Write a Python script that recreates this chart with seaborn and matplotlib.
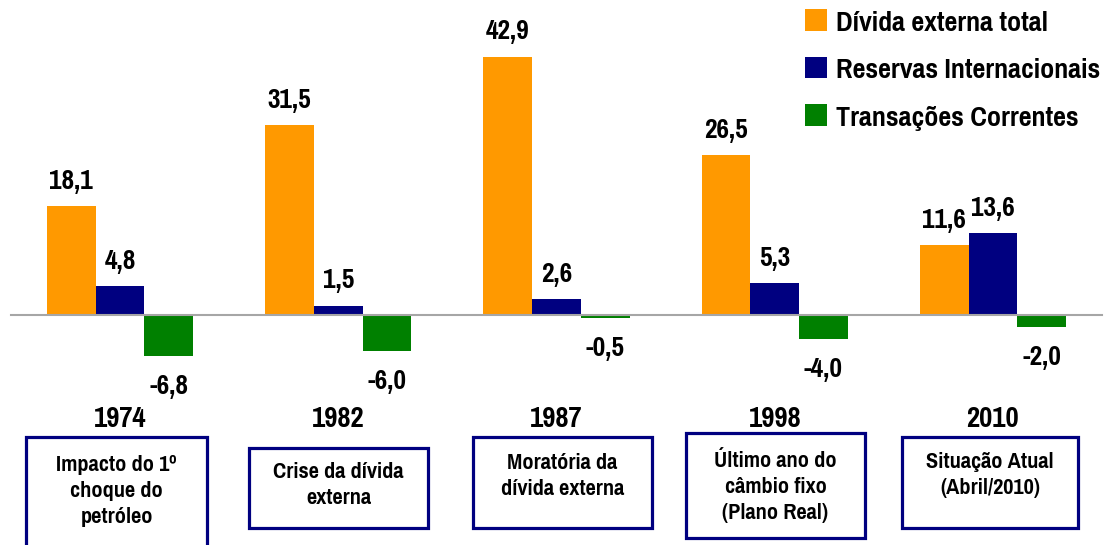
import pandas as pd
import matplotlib.pyplot as plt
from matplotlib.patches import Rectangle
from matplotlib import font_manager
import seaborn as sns

# DATA
years = ['1974', '1982', '1987', '1998', '2010']
divida = [18.1, 31.5, 42.9, 26.5, 11.6]
reservas = [4.8, 1.5, 2.6, 5.3, 13.6]
transacoes = [-6.8, -6.0, -0.5, -4.0, -2.0]
series = ['Dívida externa total', 'Reservas Internacionais', 'Transações Correntes']
descricoes = ['Impacto do 1º\nchoque do\npetróleo',
              'Crise da dívida\nexterna',
              'Moratória da\ndívida externa',
              'Último ano do\ncâmbio fixo\n(Plano Real)',
              'Situação Atual\n(Abril/2010)']

cores = ['#FF9900', '#000080', '#008000']

df = pd.DataFrame({
    'ano': years * 3,
    'serie': [series[0]] * 5 + [series[1]] * 5 + [series[2]] * 5,
    'valor': divida + reservas + transacoes,
})

# fonte estreita tipo Arial Narrow (a primeira que existir)
instaladas = {f.name for f in font_manager.fontManager.ttflist}
candidatas = ['Arial Narrow', 'Liberation Sans Narrow', 'Pragati Narrow', 'Archivo Narrow',
              'Roboto Condensed', 'PT Sans Narrow', 'IBM Plex Sans Condensed']
narrow = [c for c in candidatas if c in instaladas][:1]

sns.set_style('white')
plt.rcParams['font.family'] = narrow + ['DejaVu Sans']
plt.rcParams['font.weight'] = 'bold'
plt.rcParams['text.color'] = 'black'
plt.rcParams['xtick.color'] = 'black'

W, H = 1104, 545
fig = plt.figure(figsize=(W / 100, H / 100), dpi=100)

# eixo posicionado para a linha do zero ficar em y=315px
ylo, yhi = -13, 52
ppu = 6.02
top_px = 315 - yhi * ppu
bot_px = 315 - ylo * ppu
ax = fig.add_axes([11 / W, 1 - bot_px / H, 1091 / W, (bot_px - top_px) / H])

sns.barplot(data=df, x='ano', y='valor', hue='serie', palette=cores,
            width=0.67, saturation=1, linewidth=0, ax=ax)

ax.set_xlim(-0.5, 4.5)
ax.set_ylim(ylo, yhi)
ax.set_xlabel('')
ax.set_ylabel('')
ax.set_yticks([])
for s in ['top', 'right', 'left']:
    ax.spines[s].set_visible(False)
ax.spines['bottom'].set_position(('data', 0))
ax.spines['bottom'].set_color('#A6A6A6')
ax.spines['bottom'].set_linewidth(1.5)

ax.set_xticks(range(len(years)))
ax.set_xticklabels(years, fontsize=22.5, fontweight='bold')
ax.set_xticks([i - 0.5 for i in range(len(years) + 1)], minor=True)
ax.tick_params(axis='x', which='major', length=0, pad=65)
ax.tick_params(axis='x', which='minor', length=7, width=1.5, color='#A6A6A6', direction='out')

for cont in ax.containers:
    labs = [f'{v:.1f}'.replace('.', ',') for v in cont.datavalues]
    pads = 9 if cont.datavalues[0] > 0 else 13
    ax.bar_label(cont, labels=labs, padding=pads, fontsize=21.5, fontweight='bold')

handles, labels = ax.get_legend_handles_labels()
ax.legend(handles, labels, loc='upper left', bbox_to_anchor=(805 / W, 1 - 9 / H),
          bbox_transform=fig.transFigure, frameon=False, borderpad=0, borderaxespad=0,
          handlelength=0.72, handleheight=0.72, handletextpad=0.28, labelspacing=0.69,
          prop={'size': 22, 'weight': 'bold'})

# caixas de descricao (left, top, right, bottom em px) e centro do texto
caixas = [(26, 437, 207, 560), (249, 448, 428, 528), (473, 437, 652, 528),
          (686, 433, 865, 538), (902, 437, 1078, 528)]
centros = [491, 485, 476, 487, 475]
for (l, t, r, b), cy, txt in zip(caixas, centros, descricoes):
    fig.add_artist(Rectangle((l / W, 1 - b / H), (r - l) / W, (b - t) / H,
                             transform=fig.transFigure, fill=False,
                             edgecolor='#000080', linewidth=2.3, clip_on=False))
    fig.text((l + r) / 2 / W, 1 - cy / H, txt, ha='center', va='center',
             fontsize=17.5, fontweight='bold', linespacing=1.38)

fig.savefig('out.png', dpi=100)
